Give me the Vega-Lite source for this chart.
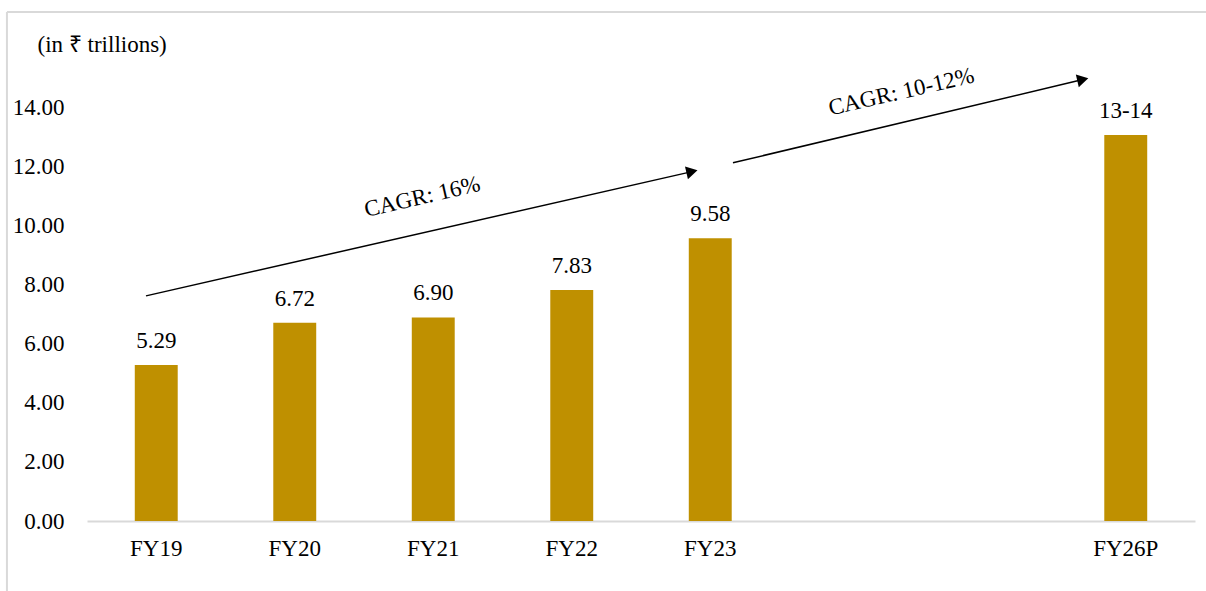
{
  "$schema": "https://vega.github.io/schema/vega-lite/v6.json",
  "width": 1108,
  "height": 509,
  "autosize": {"type": "none"},
  "padding": {"left": 87, "top": 12, "right": 11, "bottom": 70},
  "background": "white",
  "config": {
    "view": {"stroke": null},
    "font": "Liberation Serif",
    "text": {"font": "Liberation Serif", "fontSize": 23, "color": "black"}
  },
  "datasets": {
    "bars": [
      {"year": "FY19", "value": 5.29, "label": "5.29"},
      {"year": "FY20", "value": 6.72, "label": "6.72"},
      {"year": "FY21", "value": 6.90, "label": "6.90"},
      {"year": "FY22", "value": 7.83, "label": "7.83"},
      {"year": "FY23", "value": 9.58, "label": "9.58"},
      {"year": "FY26P", "value": 13.08, "label": "13-14"}
    ],
    "arrows": [
      {"arrow": "a1", "x": 0.426, "y": 7.63},
      {"arrow": "a1", "x": 4.368, "y": 11.84},
      {"arrow": "a2", "x": 4.664, "y": 12.14},
      {"arrow": "a2", "x": 7.19, "y": 14.96}
    ],
    "heads": [
      {"x": 4.368, "y": 11.84},
      {"x": 7.19, "y": 14.96}
    ],
    "notes": [
      {"x": 2.42, "y": 10.98, "text": "CAGR: 16%"},
      {"x": 5.88, "y": 14.54, "text": "CAGR: 10-12%"}
    ],
    "border": [
      {"x": -0.578, "x2": 8.08, "y": 17.25, "y2": 17.25},
      {"x": -0.578, "x2": -0.578, "y": -2.37, "y2": 17.25}
    ]
  },
  "layer": [
    {
      "data": {"name": "bars"},
      "encoding": {
        "x": {
          "field": "year",
          "type": "nominal",
          "sort": null,
          "scale": {
            "domain": ["FY19", "FY20", "FY21", "FY22", "FY23", "FY24", "FY25", "FY26P"],
            "paddingInner": 0.69,
            "paddingOuter": 0.345
          },
          "axis": {
            "title": null,
            "labelExpr": "datum.value == 'FY24' || datum.value == 'FY25' ? '' : datum.value",
            "labelAngle": 0,
            "labelFont": "Liberation Serif",
            "labelFontSize": 23,
            "labelColor": "black",
            "labelPadding": 16,
            "ticks": false,
            "domainColor": "#d9d9d9",
            "domainWidth": 2,
            "grid": false
          }
        },
        "y": {
          "field": "value",
          "type": "quantitative",
          "title": "(in ₹ trillions)",
          "scale": {"domain": [0, 17.25], "nice": false, "zero": true},
          "axis": {
            "values": [0, 2, 4, 6, 8, 10, 12, 14],
            "format": ".2f",
            "grid": false,
            "domain": false,
            "ticks": false,
            "labelFont": "Liberation Serif",
            "labelFontSize": 23,
            "labelColor": "black",
            "labelPadding": 23,
            "titleAngle": 0,
            "titleAlign": "left",
            "titleBaseline": "middle",
            "titleX": -50,
            "titleY": 32,
            "titleFont": "Liberation Serif",
            "titleFontSize": 23,
            "titleFontWeight": "normal",
            "titleColor": "black"
          }
        }
      },
      "layer": [
        {"mark": {"type": "bar", "color": "#BF9000"}},
        {
          "mark": {"type": "text", "baseline": "alphabetic", "dy": -17, "fontSize": 23},
          "encoding": {"text": {"field": "label"}}
        }
      ]
    },
    {
      "encoding": {
        "x": {
          "field": "x",
          "type": "quantitative",
          "scale": {"domain": [0, 8], "nice": false, "zero": false},
          "axis": null
        },
        "y": {"field": "y", "type": "quantitative", "title": "(in ₹ trillions)"}
      },
      "layer": [
        {
          "data": {"name": "border"},
          "mark": {"type": "rule", "color": "#d9d9d9", "strokeWidth": 2, "clip": false},
          "encoding": {
            "x2": {"field": "x2"},
            "y2": {"field": "y2"}
          }
        },
        {
          "data": {"name": "arrows"},
          "mark": {"type": "line", "color": "black", "strokeWidth": 1.5},
          "encoding": {"detail": {"field": "arrow"}}
        },
        {
          "data": {"name": "heads"},
          "mark": {"type": "point", "shape": "triangle-right", "filled": true, "color": "black", "size": 170, "angle": 347, "opacity": 1}
        },
        {
          "data": {"name": "notes"},
          "mark": {"type": "text", "angle": 347, "fontSize": 23, "align": "center", "baseline": "middle"},
          "encoding": {"text": {"field": "text"}}
        }
      ]
    }
  ],
  "resolve": {"scale": {"x": "independent"}}
}
